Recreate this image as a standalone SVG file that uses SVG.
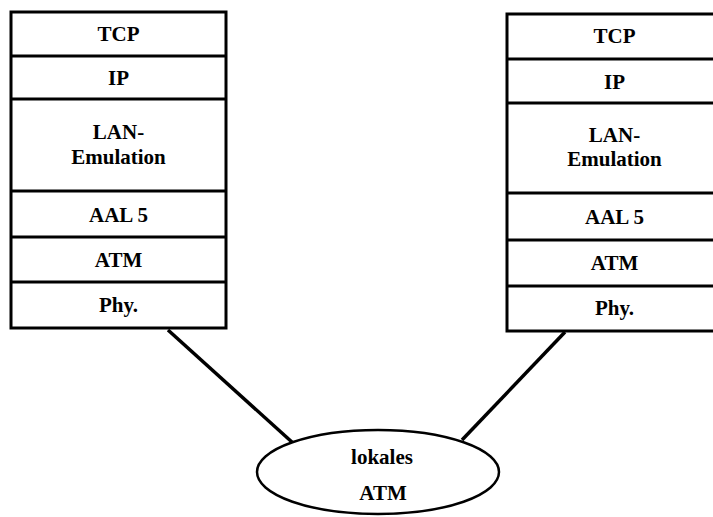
<svg xmlns="http://www.w3.org/2000/svg" width="713" height="517" viewBox="0 0 713 517">
  <style>
    .box { fill: #fff; stroke: #000; stroke-width: 3; }
    .sep { stroke: #000; stroke-width: 3; fill: none; }
    .lbl { font-family: 'Liberation Serif', 'Times New Roman', Times, 'DejaVu Serif', serif; font-weight: bold; font-size: 21px; fill: #000; text-anchor: middle; }
    .link { stroke: #000; stroke-width: 3.5; fill: none; }
  </style>
  <rect width="713" height="517" fill="#fff"/>

  <!-- protocol stack, left host -->
  <g id="stack-left">
    <rect class="box" x="11" y="12" width="215" height="316"/>
    <path class="sep" d="M11 56H226M11 99H226M11 191H226M11 237H226M11 282H226"/>
    <text class="lbl" x="118.5" y="41">TCP</text>
    <text class="lbl" x="118.5" y="85">IP</text>
    <text class="lbl" x="118.5" y="139">LAN-</text>
    <text class="lbl" x="118.5" y="164">Emulation</text>
    <text class="lbl" x="118.5" y="222">AAL 5</text>
    <text class="lbl" x="118.5" y="267">ATM</text>
    <text class="lbl" x="118.5" y="312">Phy.</text>
  </g>

  <!-- protocol stack, right host -->
  <g id="stack-right">
    <rect class="box" x="507" y="14" width="215" height="317"/>
    <path class="sep" d="M507 59H722M507 103H722M507 193H722M507 240H722M507 286H722"/>
    <text class="lbl" x="614.5" y="43">TCP</text>
    <text class="lbl" x="614.5" y="89">IP</text>
    <text class="lbl" x="614.5" y="142">LAN-</text>
    <text class="lbl" x="614.5" y="166">Emulation</text>
    <text class="lbl" x="614.5" y="224">AAL 5</text>
    <text class="lbl" x="614.5" y="270">ATM</text>
    <text class="lbl" x="614.5" y="315">Phy.</text>
  </g>

  <!-- links to the ATM network -->
  <g id="connectors">
    <line class="link" x1="168" y1="330" x2="293" y2="443"/>
    <line class="link" x1="565" y1="332" x2="462" y2="440"/>
  </g>

  <!-- local ATM network -->
  <g id="atm-network">
    <ellipse cx="378" cy="472" rx="121" ry="42" fill="#fff" stroke="#000" stroke-width="2.5"/>
    <text class="lbl" x="382" y="464">lokales</text>
    <text class="lbl" x="383" y="500">ATM</text>
  </g>
</svg>
